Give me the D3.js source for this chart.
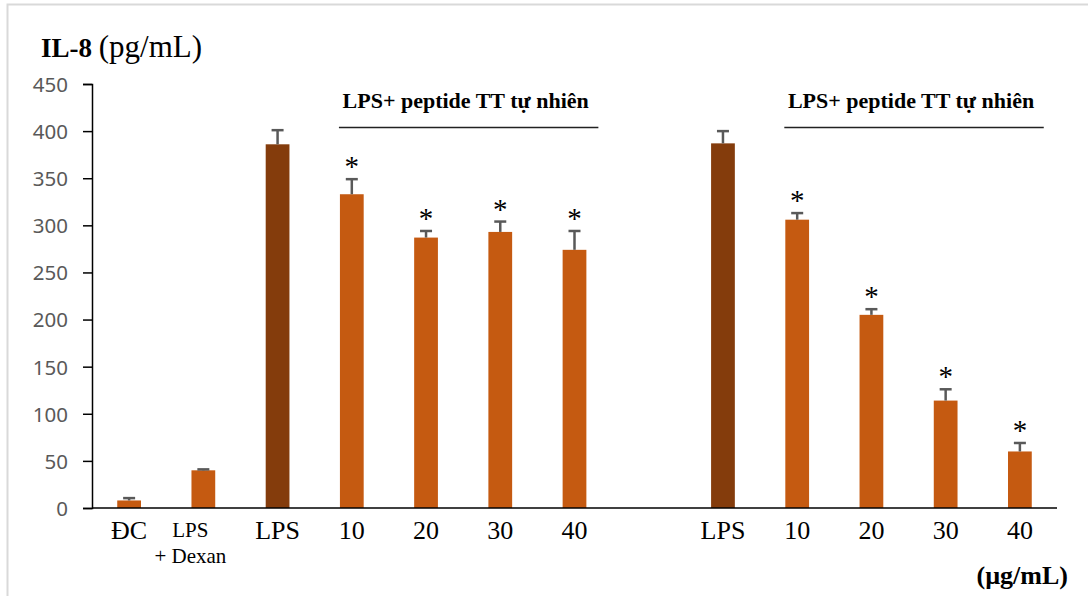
<!DOCTYPE html>
<html>
<head>
<meta charset="utf-8">
<script src="https://cdn.jsdelivr.net/npm/d3@7/dist/d3.min.js"></script>
<style>
  html, body { margin: 0; padding: 0; background: #fff; }
  svg { display: block; }
</style>
</head>
<body>
<svg id="chart" width="1088" height="596"></svg>
<script>
// IL-8 secretion (pg/mL) per treatment; the empty slot separates the two experiments
const categories = ["ĐC", "LPS|+ Dexan", "LPS", "10", "20", "30", "40", "", "LPS", "10", "20", "30", "40"];
const means      = [8, 40, 386, 333, 287, 293, 274, null, 387, 306, 205, 114, 60];
const errors     = [2.5, 1, 15, 16, 7, 11, 20, null, 13, 7, 6, 12, 9];
const significant = [false, false, false, true, true, true, true, false, false, true, true, true, true];
const isLpsControl = [false, false, true, false, false, false, false, false, true, false, false, false, false];
const yTicks = [0, 50, 100, 150, 200, 250, 300, 350, 400, 450];
const peptideGroups = [
  { label: "LPS+ peptide TT tự nhiên", first: 3, last: 6 },
  { label: "LPS+ peptide TT tự nhiên", first: 9, last: 12 }
];

const svg = d3.select("#chart");
const W = 1088, H = 596;
const plotLeft = 92, plotRight = 1057, plotTop = 84, plotBottom = 508;

const serif = "'Liberation Serif', 'Times New Roman', serif";
const sans = "'Noto Sans', 'Open Sans', sans-serif";

// light frame round the figure
svg.append("rect")
  .attr("x", 7.5).attr("y", 4.5)
  .attr("width", W).attr("height", H - 3.5)
  .attr("fill", "#fff")
  .attr("stroke", "#d9d9d9").attr("stroke-width", 2);

const idx = d3.range(categories.length);
const x = d3.scaleBand().domain(idx).range([plotLeft, plotRight])
  .paddingInner(0.68).paddingOuter(0.34);
const y = d3.scaleLinear().domain([0, 450]).range([plotBottom, plotTop]);

// y axis
const yAxis = d3.axisLeft(y).tickValues(yTicks).tickSize(9).tickPadding(15);
const gy = svg.append("g").attr("transform", `translate(${plotLeft},0)`).call(yAxis);
gy.select(".domain").attr("stroke", "#000").attr("stroke-width", 1.5);
gy.selectAll(".tick line").attr("stroke", "#000").attr("stroke-width", 1.5);
gy.selectAll(".tick text")
  .attr("fill", "#595959")
  .style("font-family", sans)
  .style("font-size", "20.5px")
  .attr("dy", "0.36em");

// bars
const data = idx.filter(i => means[i] !== null);
svg.append("g").selectAll("rect")
  .data(data)
  .join("rect")
  .attr("x", i => x(i))
  .attr("y", i => y(means[i]))
  .attr("width", x.bandwidth())
  .attr("height", i => y(0) - y(means[i]))
  .attr("fill", i => isLpsControl[i] ? "#843c0c" : "#c55a11");

// error bars (upper half)
const capHalf = 6;
const eb = svg.append("g").attr("stroke", "#595959").attr("stroke-width", 2.5);
data.forEach(i => {
  const cx = x(i) + x.bandwidth() / 2;
  const yTop = y(means[i] + errors[i]);
  eb.append("line").attr("x1", cx).attr("x2", cx)
    .attr("y1", y(means[i])).attr("y2", yTop);
  eb.append("line").attr("x1", cx - capHalf).attr("x2", cx + capHalf)
    .attr("y1", yTop).attr("y2", yTop);
});

// significance markers
svg.append("g").selectAll("text")
  .data(data.filter(i => significant[i]))
  .join("text")
  .attr("x", i => x(i) + x.bandwidth() / 2)
  .attr("y", i => y(means[i] + errors[i]) - 3)
  .attr("text-anchor", "middle")
  .style("font-family", serif)
  .style("font-size", "29px")
  .attr("fill", "#000")
  .text("*");

// x axis baseline
svg.append("line")
  .attr("x1", plotLeft).attr("x2", plotRight)
  .attr("y1", plotBottom).attr("y2", plotBottom)
  .attr("stroke", "#000").attr("stroke-width", 1.5);

// category labels
const xl = svg.append("g").style("font-family", serif).attr("fill", "#000").attr("text-anchor", "middle");
idx.forEach(i => {
  const label = categories[i];
  if (!label) return;
  const cx = x(i) + x.bandwidth() / 2;
  if (label.includes("|")) {
    const lines = label.split("|");
    const t = xl.append("text").style("font-size", "21px");
    lines.forEach((ln, k) => {
      t.append("tspan").attr("x", cx - 13).attr("y", 537 + k * 26).text(ln);
    });
  } else {
    xl.append("text").attr("x", cx).attr("y", 539)
      .style("font-size", "26px").text(label);
  }
});

// treatment group brackets
peptideGroups.forEach(g => {
  const x0 = x(g.first) - 1;
  const x1 = x(g.last) + x.bandwidth() + 12;
  svg.append("line")
    .attr("x1", x0).attr("x2", x1)
    .attr("y1", 127.5).attr("y2", 127.5)
    .attr("stroke", "#222").attr("stroke-width", 1.5);
  svg.append("text")
    .attr("x", (x0 + x1) / 2 - 3).attr("y", 108)
    .attr("text-anchor", "middle")
    .style("font-family", serif).style("font-size", "22px").style("font-weight", "bold")
    .attr("fill", "#000")
    .text(g.label);
});

// axis title
const title = svg.append("text").attr("x", 41).attr("y", 57)
  .style("font-family", serif).attr("fill", "#000");
title.append("tspan").style("font-size", "27px").style("font-weight", "bold").text("IL-8 ");
title.append("tspan").style("font-size", "31px").text("(pg/mL)");

// concentration unit
svg.append("text").attr("x", 1068).attr("y", 584)
  .attr("text-anchor", "end")
  .style("font-family", serif).style("font-size", "26px").style("font-weight", "bold")
  .attr("fill", "#000")
  .text("(µg/mL)");
</script>
</body>
</html>
